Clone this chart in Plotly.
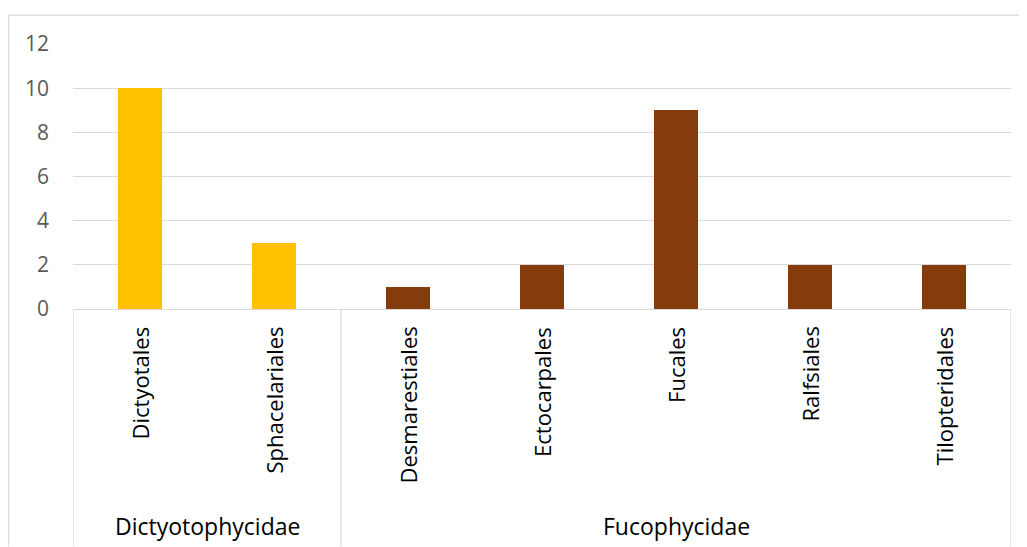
import plotly.graph_objects as go

orders = ["Dictyotales", "Sphacelariales", "Desmarestiales", "Ectocarpales",
          "Fucales", "Ralfsiales", "Tilopteridales"]
groups = ["Dictyotophycidae", "Dictyotophycidae", "Fucophycidae", "Fucophycidae",
          "Fucophycidae", "Fucophycidae", "Fucophycidae"]
counts = [10, 3, 1, 2, 9, 2, 2]
group_colors = {"Dictyotophycidae": "#FFC000", "Fucophycidae": "#843C0C"}
y_ticks = [0, 2, 4, 6, 8, 10, 12]

OFF = 8  # page body margin
W, H = 1027 - OFF, 547 - OFF
L, T = 73 - OFF, 43.5 - OFF
PLOT_R, PLOT_B = 1011.5 - OFF, 309 - OFF
R, B = W - PLOT_R, H - PLOT_B
PW, PH = PLOT_R - L, PLOT_B - T

def px_x(p):
    return (p - OFF - L) / PW

def px_y(p):
    return (PLOT_B - (p - OFF)) / PH

idx = list(range(len(orders)))
fig = go.Figure()
fig.add_trace(go.Bar(
    x=idx, y=counts, width=0.33,
    marker=dict(color=[group_colors[g] for g in groups], line=dict(width=0)),
    hoverinfo="skip",
))

font = "Open Sans, Noto Sans, sans-serif"
ann = []
shapes = []
for i, name in enumerate(orders):
    ann.append(dict(x=i, y=px_y(325), xref="x", yref="paper", text=name,
                    textangle=-90, showarrow=False, xanchor="center", yanchor="top",
                    font=dict(family=font, size=22, color="#000000")))

# group spans
bounds = []
start = 0
for i in range(1, len(groups) + 1):
    if i == len(groups) or groups[i] != groups[start]:
        bounds.append((start, i - 1, groups[start]))
        start = i
seps = [-0.5] + [b[1] + 0.5 for b in bounds]
for s in seps:
    shapes.append(dict(type="line", xref="x", yref="paper", x0=s, x1=s,
                       y0=0, y1=px_y(547), line=dict(color="#D9D9D9", width=1.3)))
for a, b, g in bounds:
    ann.append(dict(x=(a + b) / 2, y=px_y(526), xref="x", yref="paper", text=g,
                    showarrow=False, xanchor="center", yanchor="middle",
                    font=dict(family=font, size=23, color="#000000")))

# chart-area border (top and left)
shapes.append(dict(type="line", xref="paper", yref="paper", x0=px_x(8), x1=px_x(1027),
                   y0=px_y(14.5), y1=px_y(14.5), line=dict(color="#D9D9D9", width=1.3)))
shapes.append(dict(type="line", xref="paper", yref="paper", x0=px_x(8.5), x1=px_x(8.5),
                   y0=px_y(14.5), y1=px_y(547), line=dict(color="#D9D9D9", width=1.3)))

fig.update_layout(
    width=W, height=H,
    margin=dict(l=L, r=R, t=T, b=B, pad=0),
    paper_bgcolor="white", plot_bgcolor="white",
    showlegend=False, bargap=0,
    annotations=ann, shapes=shapes,
    xaxis=dict(range=[-0.5, len(orders) - 0.5], showticklabels=False, showgrid=False,
               zeroline=False, showline=True, linecolor="#D9D9D9", linewidth=1.3,
               ticks="", fixedrange=True),
    yaxis=dict(range=[0, 12], tickvals=y_ticks, showgrid=True, gridcolor="#D9D9D9",
               gridwidth=1.3, zeroline=False, showline=False, ticks="",
               tickfont=dict(family=font, size=21, color="#595959"),
               ticklabelstandoff=23, fixedrange=True),
)

fig.write_html("out.html")
